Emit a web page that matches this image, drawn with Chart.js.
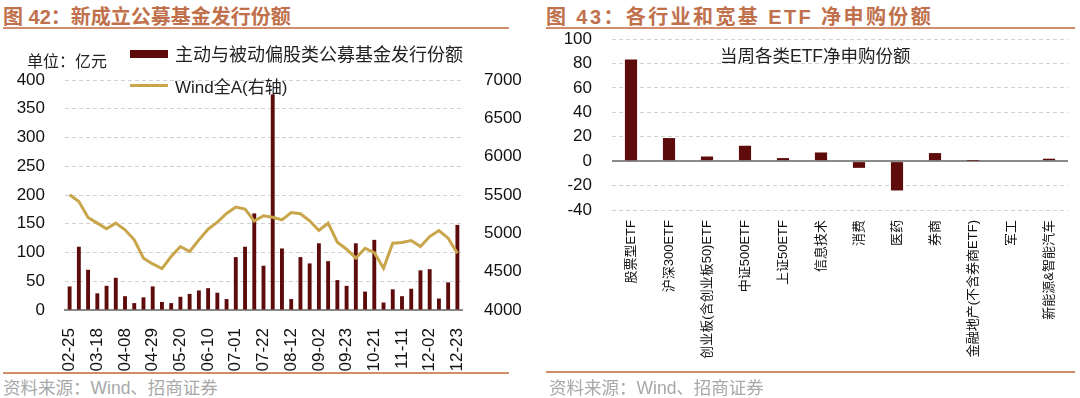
<!DOCTYPE html>
<html>
<head>
<meta charset="utf-8">
<script src="https://cdn.jsdelivr.net/npm/chart.js@4.4.1/dist/chart.umd.min.js"></script>
<style>
    body { margin: 0; width: 1080px; height: 398px; background: #fff; position: relative; overflow: hidden;
           font-family: "Liberation Sans", "Noto Sans CJK SC", sans-serif; color: #222; }
    .title { position: absolute; top: 1px; font-weight: bold; font-size: 20px; color: #c0714c; white-space: nowrap; }
    .rule { position: absolute; height: 2px; background: #d28b6b; }
    .src { position: absolute; top: 374px; font-size: 17.5px; color: #a8a8a8; white-space: nowrap; }
    .box { position: absolute; }
    .lg { position: absolute; white-space: nowrap; }
</style>
</head>
<body>
<div class="title" style="left:3px;">图 42：新成立公募基金发行份额</div>
<div class="rule" style="left:3px; width:506px; top:27px;"></div>
<div class="title" style="left:546px; letter-spacing:2.4px;">图 43：各行业和宽基 ETF 净申购份额</div>
<div class="rule" style="left:546px; width:529px; top:27px;"></div>

<div class="box" style="left:0; top:0;"><canvas id="fundChart" width="540" height="372"></canvas></div>
<div class="box" style="left:540px; top:0;"><canvas id="etfChart" width="540" height="372"></canvas></div>

<div class="lg" style="left:27px; top:48px; font-size:16px;">单位：亿元</div>
<div class="lg" style="left:130px; top:50px; width:38px; height:8px; background:#5e0b0b;"></div>
<div class="lg" style="left:175px; top:40px; font-size:18px;">主动与被动偏股类公募基金发行份额</div>
<div class="lg" style="left:130px; top:84px; width:38px; height:3px; background:#c9a54b;"></div>
<div class="lg" style="left:175px; top:73px; font-size:17px;">Wind全A(右轴)</div>

<div class="rule" style="left:3px; width:506px; top:372px;"></div>
<div class="rule" style="left:546px; width:529px; top:371px;"></div>
<div class="src" style="left:3px;">资料来源：Wind、招商证券</div>
<div class="src" style="left:549px;">资料来源：Wind、招商证券</div>

<script>
// 新成立公募基金发行份额 (亿元), weekly
const weeks = ['02-25', '03-04', '03-11', '03-18', '03-25', '04-01', '04-08', '04-15', '04-22', '04-29',
    '05-06', '05-13', '05-20', '05-27', '06-03', '06-10', '06-17', '06-24', '07-01', '07-08',
    '07-15', '07-22', '07-29', '08-05', '08-12', '08-19', '08-26', '09-02', '09-09', '09-16',
    '09-23', '09-30', '10-14', '10-21', '10-28', '11-04', '11-11', '11-18', '11-25', '12-02',
    '12-09', '12-16', '12-23'];
const fundIssue = [41, 110, 70, 29, 42, 56, 24, 12, 22, 41,
    14, 12, 23, 28, 34, 38, 30, 19, 92, 110,
    168, 77, 375, 107, 19, 92, 81, 116, 85, 52,
    42, 116, 32, 122, 13, 36, 24, 37, 69, 71,
    20, 48, 148];
const windA = [5503, 5416, 5207, 5133, 5059, 5133, 5046, 4915, 4676, 4601,
    4540, 4697, 4828, 4763, 4915, 5054, 5145, 5260, 5342, 5316,
    5160, 5229, 5210, 5176, 5272, 5255, 5163, 5037, 5133, 4885,
    4793, 4676, 4806, 4749, 4545, 4871, 4880, 4906, 4828, 4958,
    5037, 4937, 4741];

// 当周各类ETF净申购份额
const etfNames = ['股票型ETF', '沪深300ETF', '创业板(含创业板50)ETF', '中证500ETF', '上证50ETF', '信息技术',
    '消费', '医药', '券商', '金融地产(不含券商ETF)', '军工', '新能源&智能汽车'];
const etfValues = [83.2, 18.9, 3.8, 12.6, 2.5, 7.1, -5.5, -24, 6.6, 0.3, -0.8, 2.0];

const barRed = '#5e0b0b';
const gold = '#c9a54b';
const gridGrey = '#d2d2d2';
const axisGrey = '#8a8a8a';
const tickFont = { family: '"Liberation Sans", "Noto Sans CJK SC", sans-serif', size: 17 };

Chart.defaults.color = '#111';
Chart.defaults.animation = false;

// === Left: fund issuance + Wind All A ===
new Chart(document.getElementById('fundChart'), {
    data: {
        labels: weeks,
        datasets: [{
            type: 'line',
            data: windA,
            yAxisID: 'y1',
            borderColor: gold,
            borderWidth: 3,
            pointRadius: 0,
            tension: 0
        }, {
            type: 'bar',
            data: fundIssue,
            yAxisID: 'y',
            backgroundColor: barRed,
            barPercentage: 0.42,
            categoryPercentage: 1
        }]
    },
    options: {
        responsive: false,
        layout: { padding: { top: 80, left: 0, right: 0, bottom: 0 } },
        plugins: { legend: { display: false }, tooltip: { enabled: false } },
        scales: {
            x: {
                grid: { display: false },
                border: { color: axisGrey, width: 2 },
                ticks: {
                    font: tickFont, autoSkip: false, maxRotation: 90, minRotation: 90, padding: 10,
                    callback: (v, i) => (i % 3 === 0 ? weeks[i] : '')
                },
                afterFit: s => { s.height = 62; }
            },
            y: {
                position: 'left',
                min: 0, max: 400,
                ticks: { stepSize: 50, font: tickFont, padding: 20 },
                grid: {
                    drawTicks: false,
                    color: ctx => (ctx.tick && ctx.tick.value === 0 ? 'rgba(0,0,0,0)' : gridGrey),
                    lineWidth: 1
                },
                border: {
                    display: false,
                    dash: ctx => (ctx.tick && ctx.tick.value === 0 ? [] : [4, 3])
                },
                afterFit: s => { s.width = 65; }
            },
            y1: {
                position: 'right',
                min: 4000, max: 7000,
                ticks: { stepSize: 500, font: tickFont, padding: 14, callback: v => String(v) },
                grid: { display: false },
                border: { display: false },
                afterFit: s => { s.width = 78; }
            }
        }
    }
});

// === Right: ETF net subscription ===
const innerTitle = {
    id: 'innerTitle',
    afterDraw(chart) {
        const { ctx, chartArea } = chart;
        ctx.save();
        ctx.font = '17.5px "Liberation Sans", "Noto Sans CJK SC", sans-serif';
        ctx.fillStyle = '#222';
        ctx.textBaseline = 'middle';
        ctx.fillText('当周各类ETF净申购份额', chartArea.left + 108, chartArea.top + 18);
        ctx.restore();
    }
};

new Chart(document.getElementById('etfChart'), {
    type: 'bar',
    data: {
        labels: etfNames,
        datasets: [{
            data: etfValues,
            backgroundColor: barRed,
            barPercentage: 0.32,
            categoryPercentage: 1
        }]
    },
    options: {
        responsive: false,
        layout: { padding: { top: 39, left: 0, right: 12, bottom: 0 } },
        plugins: { legend: { display: false }, tooltip: { enabled: false } },
        scales: {
            x: {
                grid: { display: false },
                border: { display: false },
                ticks: {
                    font: { family: '"Liberation Sans", "Noto Sans CJK SC", sans-serif', size: 13 },
                    autoSkip: false, maxRotation: 90, minRotation: 90, padding: 2
                },
                afterFit: s => { s.height = 162; }
            },
            y: {
                min: -40, max: 100,
                ticks: { stepSize: 20, font: tickFont, padding: 20 },
                grid: {
                    drawTicks: false,
                    color: ctx => (ctx.tick && ctx.tick.value === 0 ? axisGrey : gridGrey),
                    lineWidth: ctx => (ctx.tick && ctx.tick.value === 0 ? 2 : 1)
                },
                border: {
                    display: false,
                    dash: ctx => (ctx.tick && ctx.tick.value === 0 ? [] : [4, 3])
                },
                afterFit: s => { s.width = 72; }
            }
        }
    },
    plugins: [innerTitle]
});
</script>
</body>
</html>
